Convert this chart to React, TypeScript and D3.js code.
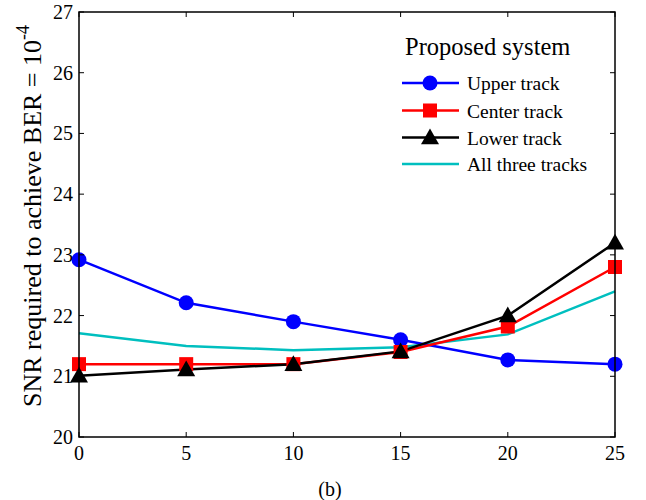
import React from "react";
import * as d3 from "d3";

const xValues = [0, 5, 10, 15, 20, 25];
const upperTrack = [22.92, 22.21, 21.9, 21.6, 21.27, 21.2];
const centerTrack = [21.2, 21.2, 21.2, 21.4, 21.82, 22.8];
const lowerTrack = [21.01, 21.11, 21.2, 21.41, 22.0, 23.2];
const allThreeTracks = [21.71, 21.5, 21.43, 21.48, 21.69, 22.4];
const xTicks = [0, 5, 10, 15, 20, 25];
const yTicks = [20, 21, 22, 23, 24, 25, 26, 27];

const seriesNames = ["Upper track", "Center track", "Lower track", "All three tracks"];
const seriesColors = ["#0000ff", "#ff0000", "#000000", "#00bfbf"];
const seriesMarkers = ["circle", "square", "triangle", "none"];
const seriesData = [upperTrack, centerTrack, lowerTrack, allThreeTracks];

const W = 646, H = 500;
const L = 79, R = 615, T = 12, B = 437;
const FONT = "'Liberation Serif', 'Times New Roman', serif";

function Marker({ type, x, y, color }: { type: string; x: number; y: number; color: string }) {
  if (type === "circle") return <circle cx={x} cy={y} r={7.5} fill={color} />;
  if (type === "square") return <rect x={x - 7} y={y - 7} width={14} height={14} fill={color} />;
  if (type === "triangle") {
    const s = 9;
    return <path d={`M${x},${y - s} L${x + s},${y + s * 0.75} L${x - s},${y + s * 0.75}Z`} fill={color} />;
  }
  return null;
}

export default function App() {
  const xs = d3.scaleLinear().domain([0, 25]).range([L, R]);
  const ys = d3.scaleLinear().domain([20, 27]).range([B, T]);
  const line = d3.line<number>().x((_, i) => xs(xValues[i])).y((d) => ys(d));
  const order = [3, 0, 1, 2];
  const legX = 402, legText = 467;
  const legY = [83, 110.5, 137.5, 164];
  return (
    <svg width={W} height={H} style={{ position: "absolute", left: 0, top: 0, background: "#fff" }} fontFamily={FONT}>
      <rect x={0} y={0} width={W} height={H} fill="#fff" />
      {order.map((si) => (
        <path key={si} d={line(seriesData[si]) || ""} fill="none" stroke={seriesColors[si]} strokeWidth={2.5} />
      ))}
      {order.map((si) =>
        seriesData[si].map((v, i) => (
          <Marker key={`${si}-${i}`} type={seriesMarkers[si]} x={xs(xValues[i])} y={ys(v)} color={seriesColors[si]} />
        ))
      )}
      <rect x={L} y={T} width={R - L} height={B - T} fill="none" stroke="#000" strokeWidth={1.5} />
      {xTicks.map((t) => (
        <g key={`x${t}`}>
          <line x1={xs(t)} x2={xs(t)} y1={B} y2={B - 5} stroke="#000" />
          <line x1={xs(t)} x2={xs(t)} y1={T} y2={T + 5} stroke="#000" />
          <text x={xs(t)} y={B + 23} textAnchor="middle" fontSize={20}>{t}</text>
        </g>
      ))}
      {yTicks.map((t) => (
        <g key={`y${t}`}>
          <line x1={L} x2={L + 5} y1={ys(t)} y2={ys(t)} stroke="#000" />
          <line x1={R} x2={R - 5} y1={ys(t)} y2={ys(t)} stroke="#000" />
          <text x={L - 6} y={ys(t) + 7} textAnchor="end" fontSize={20}>{t}</text>
        </g>
      ))}
      <text x={330} y={496} textAnchor="middle" fontSize={20}>(b)</text>
      <text transform="translate(41,216) rotate(-90)" textAnchor="middle" fontSize={26}>
        SNR required to achieve BER = 10<tspan dy={-12} fontSize={18}>-4</tspan>
      </text>
      <text x={405} y={55} fontSize={24.5}>Proposed system</text>
      {[0, 1, 2, 3].map((si) => (
        <g key={`leg${si}`}>
          <line x1={legX} x2={459} y1={legY[si]} y2={legY[si]} stroke={seriesColors[si]} strokeWidth={2.5} />
          <Marker type={seriesMarkers[si]} x={430} y={legY[si]} color={seriesColors[si]} />
          <text x={legText} y={legY[si] + 7} fontSize={19.5}>{seriesNames[si]}</text>
        </g>
      ))}
    </svg>
  );
}
